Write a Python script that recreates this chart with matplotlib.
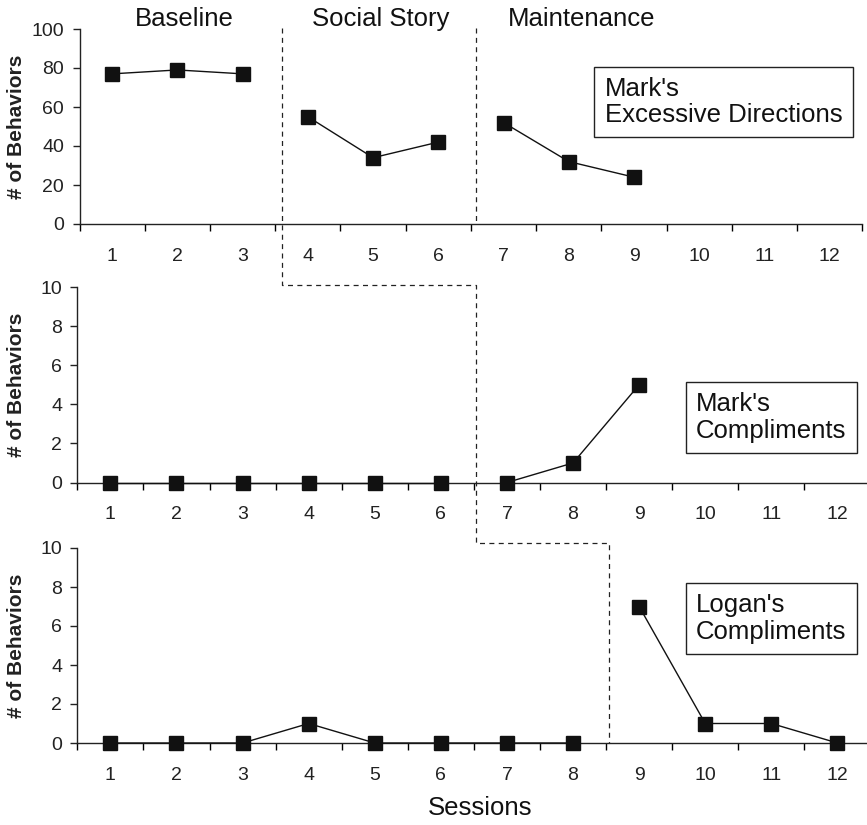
import matplotlib
matplotlib.use("Agg")
import matplotlib.pyplot as plt
from matplotlib.lines import Line2D
import numpy as np

plt.rcParams['font.family'] = ['Liberation Sans', 'DejaVu Sans']

# data
sessions = list(range(1, 13))
directions = [77, 79, 77, 55, 34, 42, 52, 32, 24]
directions_phases = [(0, 3), (3, 6), (6, 9)]
mark_compliments = [0, 0, 0, 0, 0, 0, 0, 1, 5]
mark_phases = [(0, 6), (6, 9)]
logan_compliments = [0, 0, 0, 1, 0, 0, 0, 0, 7, 1, 1, 0]
logan_phases = [(0, 8), (8, 12)]
phase_names = ["Baseline", "Social Story", "Maintenance"]
box_labels = ["Mark's\nExcessive Directions", "Mark's\nCompliments", "Logan's\nCompliments"]

W, H = 867, 825
fig = plt.figure(figsize=(W / 100, H / 100), dpi=100)

def px(l, b, r, t):
    return [l / W, 1 - b / H, (r - l) / W, (b - t) / H]

ax1 = fig.add_axes(px(79.5, 224, 862.5, 29))
ax2 = fig.add_axes(px(77.3, 482.5, 870.5, 287))
ax3 = fig.add_axes(px(77.3, 743, 870.5, 548))

def style(ax, ymax, ystep):
    ax.set_xlim(0.5, 12.5)
    ax.set_ylim(0, ymax)
    ax.set_yticks(np.arange(0, ymax + 1, ystep))
    ax.set_xticks(sessions)
    ax.set_xticks(np.arange(0.5, 13, 1), minor=True)
    ax.tick_params(axis='x', which='major', length=0, pad=17, labelsize=14, colors='#222')
    ax.tick_params(axis='x', which='minor', length=5, width=1, direction='out')
    ax.tick_params(axis='y', length=5, width=1, direction='out', labelsize=14, pad=6, colors='#222')
    ax.spines['top'].set_visible(False)
    ax.spines['right'].set_visible(False)
    for s in ('left', 'bottom'):
        ax.spines[s].set_linewidth(1)
        ax.spines[s].set_color('#222')
    ax.set_ylabel("# of Behaviors", fontsize=15, fontweight='bold', color='#222')
    left_px = ax.get_position().x0 * W
    ax.yaxis.set_label_coords((26 - left_px) / (ax.get_position().width * W), 0.5)
    ax.patch.set_alpha(0)

def plot_phases(ax, values, phases):
    for a, b in phases:
        ax.plot(sessions[a:b], values[a:b], color='#111', lw=1, marker='s',
                markersize=9.5, markerfacecolor='#111', markeredgecolor='#111',
                clip_on=False, zorder=5)

style(ax1, 100, 20)
style(ax2, 10, 2)
style(ax3, 10, 2)
plot_phases(ax1, directions, directions_phases)
plot_phases(ax2, mark_compliments, mark_phases)
plot_phases(ax3, logan_compliments, logan_phases)

# boxed labels
box_kw = dict(boxstyle='square,pad=0.4', facecolor='white', edgecolor='#222', lw=1)
ax1.text(8.55, 62.6, box_labels[0], fontsize=18.5, va='center', ha='left',
         linespacing=1.12, bbox=box_kw, color='#111')
ax2.text(9.86, 3.32, box_labels[1], fontsize=18.5, va='center', ha='left',
         linespacing=1.12, bbox=box_kw, color='#111')
ax3.text(9.86, 6.38, box_labels[2], fontsize=18.5, va='center', ha='left',
         linespacing=1.12, bbox=box_kw, color='#111')

# phase names
for x, name in zip([2.1, 5.12, 8.2], phase_names):
    xd = ax1.transData.transform((x, 0))[0] / W
    fig.text(xd, 1 - 19 / H, name, fontsize=18.5, ha='center', va='center', color='#111')

fig.text(480 / W, 1 - 808 / H, "Sessions", fontsize=18.5, ha='center', va='center', color='#111')

# phase-change lines
def fig_pt(ax, x, y):
    p = ax.transData.transform((x, y))
    return fig.transFigure.inverted().transform(p)

bx1 = fig_pt(ax1, 3.6, 0)[0]
bx2 = fig_pt(ax1, 6.58, 0)[0]
bx3 = fig_pt(ax3, 8.54, 0)[0]
y_top = fig_pt(ax1, 1, 100.5)[1]
y_top0 = fig_pt(ax1, 1, 0)[1]
y_mid = fig_pt(ax2, 1, 10.1)[1]
y_bot = fig_pt(ax3, 1, 10.25)[1]
y_bot0 = fig_pt(ax3, 1, 0)[1]

dash = dict(color='#222', lw=0.9, linestyle=(0, (4, 3.5)), transform=fig.transFigure)
fig.add_artist(Line2D([bx1, bx1, bx2, bx2, bx3, bx3],
                      [y_top, y_mid, y_mid, y_bot, y_bot, y_bot0], **dash))
fig.add_artist(Line2D([bx2, bx2], [y_top, y_top0], **dash))

plt.savefig("out.png", dpi=100, facecolor='white')
